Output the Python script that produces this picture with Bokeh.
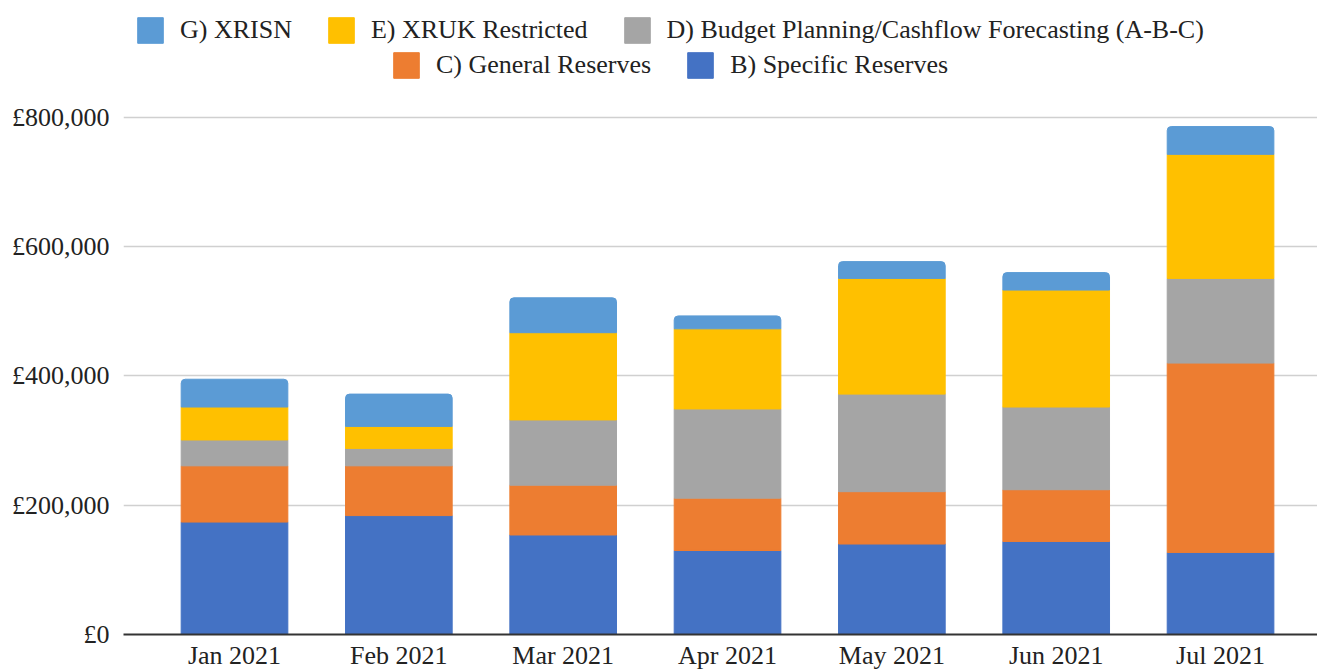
from bokeh.plotting import figure
from bokeh.models import ColumnDataSource, Range1d, FixedTicker, Legend, LegendItem
from bokeh.embed import file_html
from bokeh.resources import INLINE

months = ["Jan 2021", "Feb 2021", "Mar 2021", "Apr 2021", "May 2021", "Jun 2021", "Jul 2021"]
specific_reserves = [174000, 184000, 154000, 130000, 140000, 144000, 127000]
general_reserves = [87000, 77000, 77000, 81000, 81000, 80000, 293000]
budget_planning = [40000, 27000, 101000, 138000, 151000, 128000, 131000]
xruk_restricted = [51000, 34000, 135000, 124000, 179000, 181000, 192000]
xrisn = [43000, 50000, 54000, 20000, 26000, 27000, 43000]

series_names = ["B) Specific Reserves", "C) General Reserves",
                "D) Budget Planning/Cashflow Forecasting (A-B-C)",
                "E) XRUK Restricted", "G) XRISN"]
colors = ["#4472C4", "#ED7D31", "#A5A5A5", "#FFC000", "#5B9BD5"]

y_ticks = [0, 200000, 400000, 600000, 800000]
y_tick_labels = ["£0", "£200,000", "£400,000", "£600,000", "£800,000"]

FONT = "Liberation Serif"
TXT = "#222222"

src = ColumnDataSource(dict(
    x=list(range(len(months))),
    b=specific_reserves, c=general_reserves, d=budget_planning,
    e=xruk_restricted, g=xrisn,
))

p = figure(frame_width=1194, frame_height=634,
           x_range=Range1d(-0.6755, 6.590), y_range=Range1d(0, 981044),
           output_backend="svg", toolbar_location=None,
           min_border_left=123, min_border_right=0, min_border_top=0,
           min_border_bottom=0)
p.outline_line_color = None
p.background_fill_color = "white"

p.xgrid.visible = False
p.ygrid.ticker = FixedTicker(ticks=y_ticks)
p.ygrid.grid_line_color = "#d0d0d0"
p.ygrid.grid_line_width = 1.5

xa = p.xaxis[0]
xa.ticker = FixedTicker(ticks=list(range(len(months))))
xa.major_label_overrides = {i: m for i, m in enumerate(months)}
xa.major_tick_line_color = None
xa.major_tick_out = 0
xa.major_tick_in = 0
xa.minor_tick_line_color = None
xa.minor_tick_out = 0
xa.axis_line_color = "#333333"
xa.axis_line_width = 2
xa.major_label_standoff = 6
xa.axis_label_standoff = 0
xa.major_label_text_font = FONT
xa.major_label_text_font_size = "26px"
xa.major_label_text_color = TXT

ya = p.yaxis[0]
ya.ticker = FixedTicker(ticks=y_ticks)
ya.major_label_overrides = {t: l for t, l in zip(y_ticks, y_tick_labels)}
ya.major_tick_line_color = None
ya.major_tick_out = 0
ya.major_tick_in = 0
ya.minor_tick_line_color = None
ya.minor_tick_out = 0
ya.axis_line_color = None
ya.major_label_standoff = 14
ya.axis_label_standoff = 0
ya.major_label_text_font = FONT
ya.major_label_text_font_size = "26px"
ya.major_label_text_color = TXT

rs = p.vbar_stack(["b", "c", "d", "e", "g"], x="x", width=0.649,
                  color=colors, source=src)
try:
    rs[-1].glyph.border_radius = (4, 4, 0, 0)
except Exception:
    pass

def make_legend(idx, loc):
    leg = Legend(items=[LegendItem(label=series_names[i], renderers=[rs[i]]) for i in idx],
                 orientation="horizontal", location=loc, padding=0, spacing=33,
                 glyph_width=32, glyph_height=32, label_standoff=14,
                 label_height=26,
                 label_text_font=FONT, label_text_font_size="26px",
                 label_text_color=TXT, border_line_color=None,
                 background_fill_alpha=0, margin=0)
    return leg

p.add_layout(make_legend([4, 3, 2], (11, 588)))
p.add_layout(make_legend([1, 0], (267, 553)))

open("out.html", "w").write(file_html(p, INLINE))
